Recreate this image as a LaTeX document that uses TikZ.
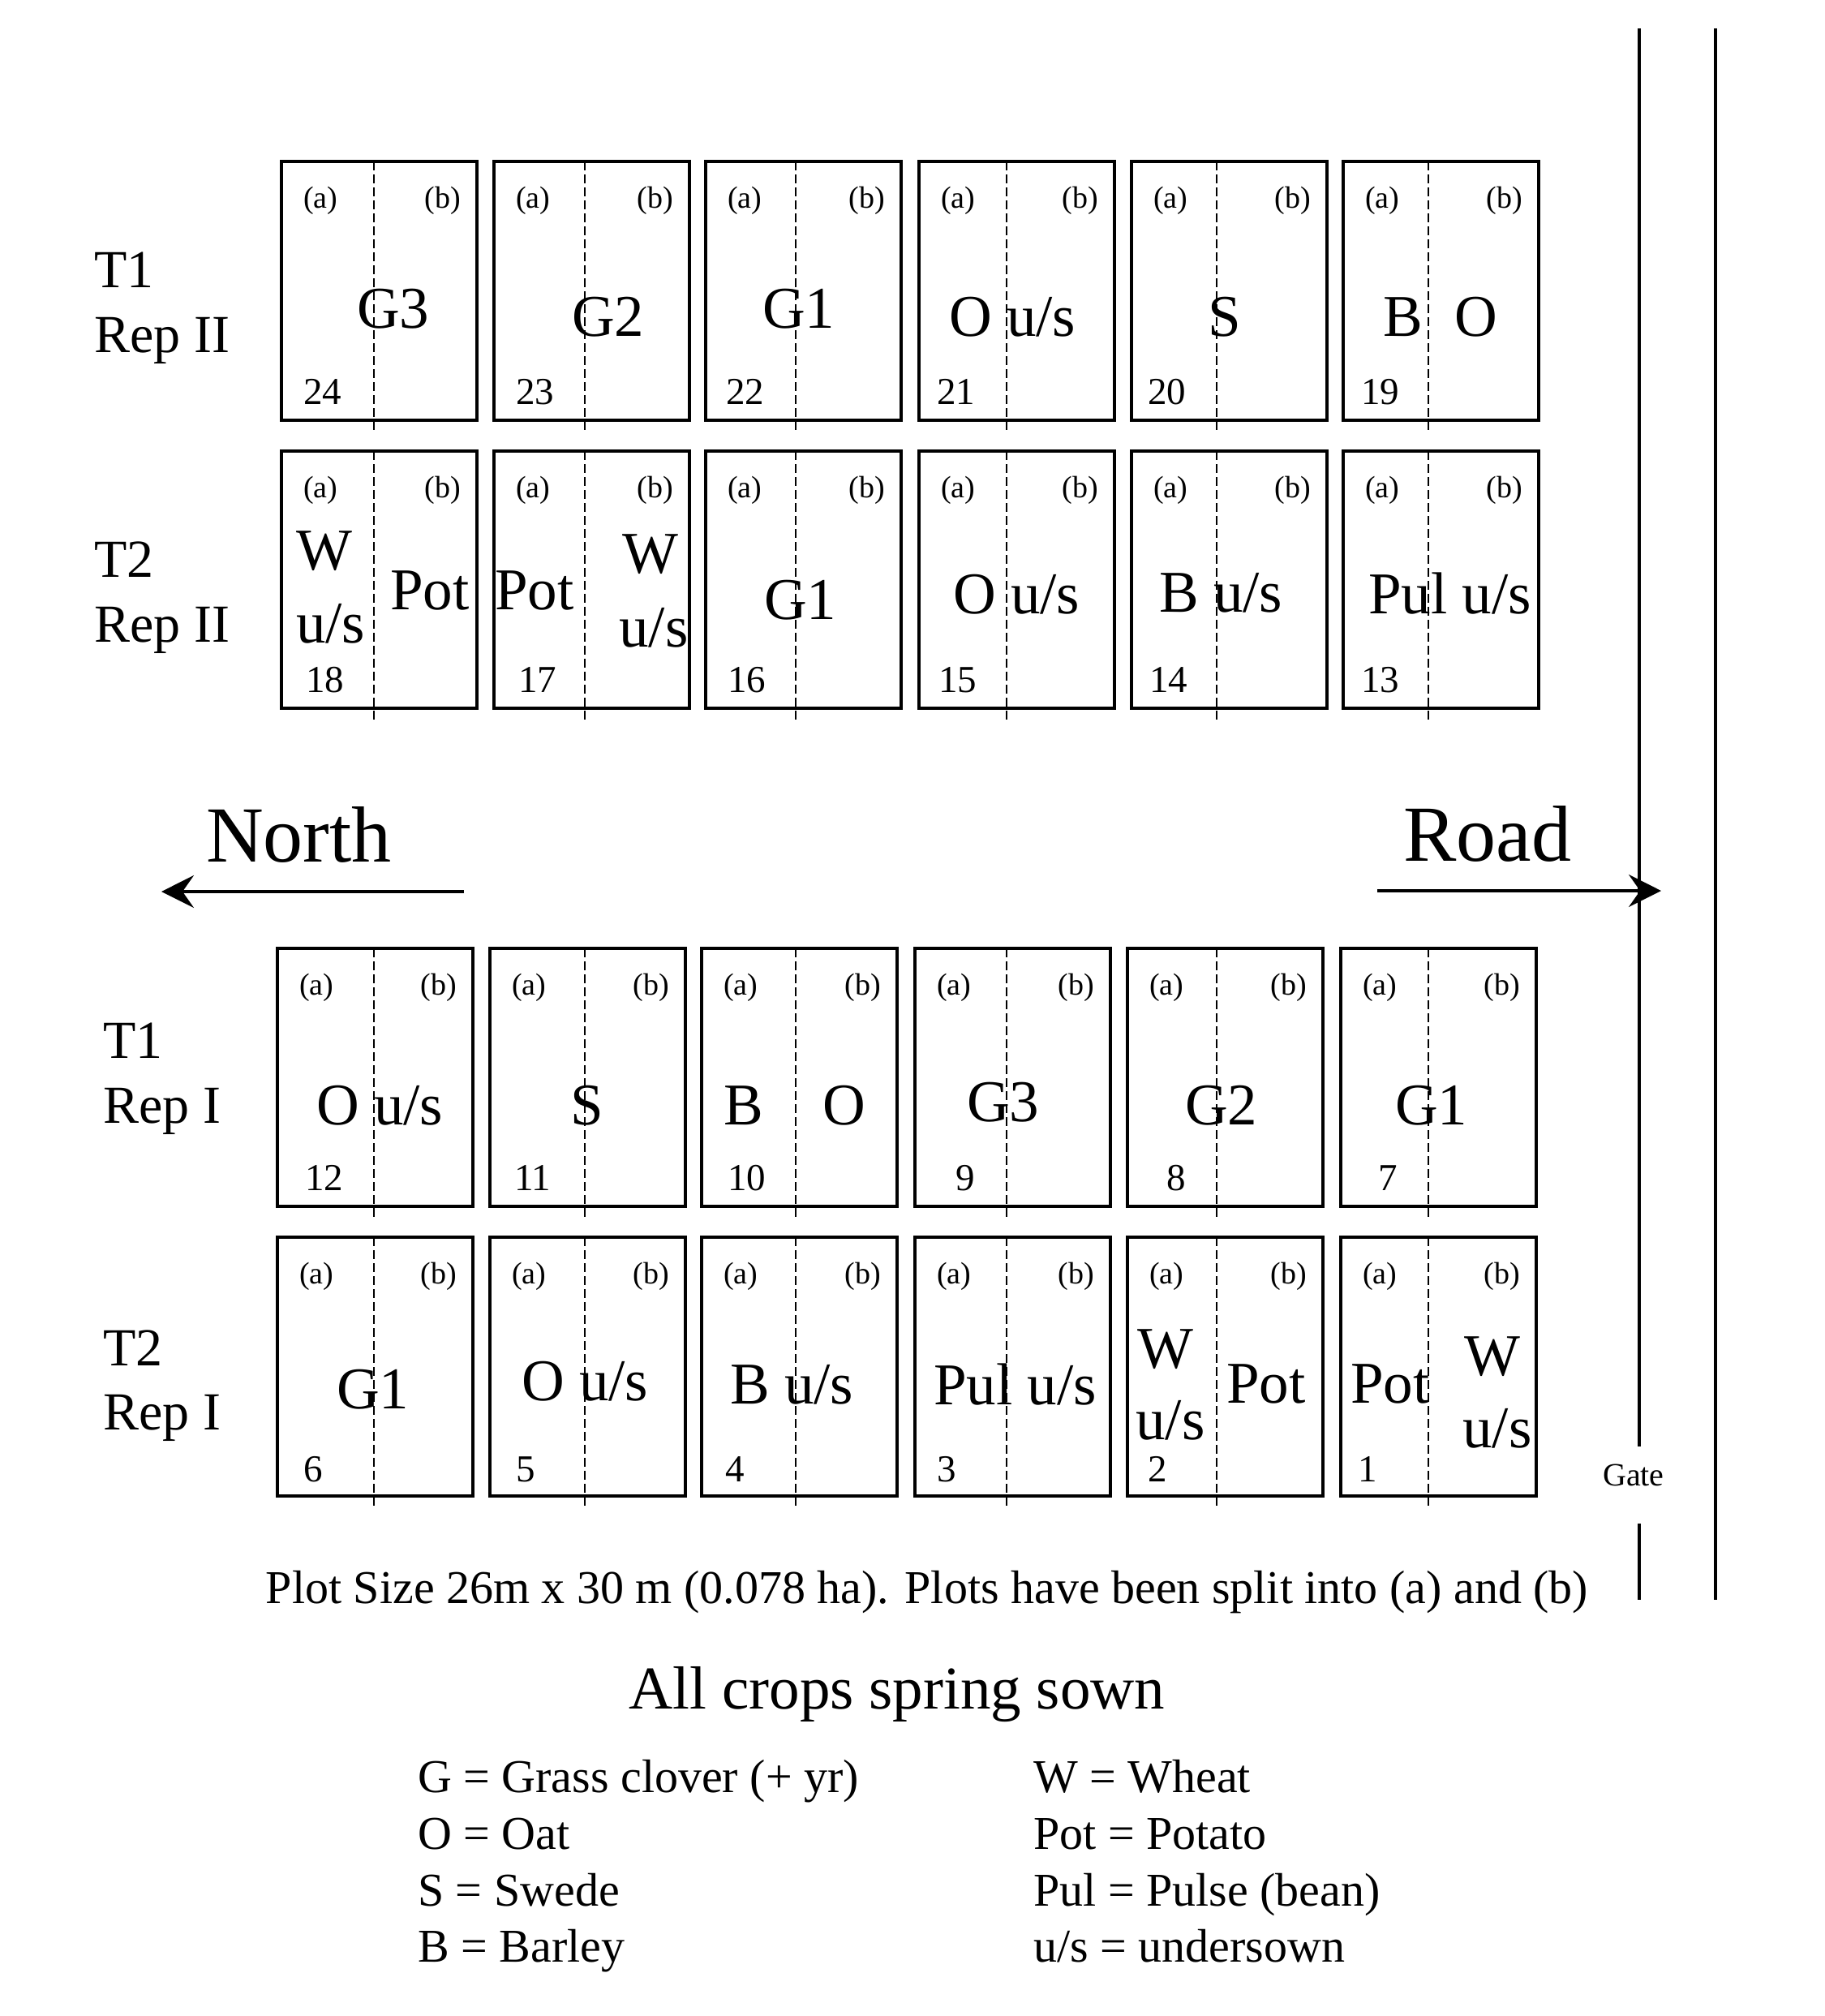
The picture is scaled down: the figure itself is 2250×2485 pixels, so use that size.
\documentclass[tikz,border=0pt]{standalone}
\usepackage{fontspec}
\setmainfont{Liberation Serif}
\usetikzlibrary{arrows.meta}

\begin{document}
\begin{tikzpicture}[x=1pt,y=1pt,yscale=-1,xscale=1,
  plot/.style={line width=3.2pt},
  half/.style={line width=2.8pt,dash pattern=on 11pt off 5pt},
  sub/.style={font=\fontsize{38}{40}\selectfont,inner sep=0pt},
  num/.style={font=\fontsize{47}{50}\selectfont,inner sep=0pt,anchor=base west},
  crop/.style={font=\fontsize{73}{76}\selectfont,inner sep=0pt,anchor=base west},
  lab/.style={font=\fontsize{66}{70}\selectfont,inner sep=0pt,anchor=base west},
  big/.style={font=\fontsize{98}{100}\selectfont,inner sep=0pt,anchor=base west},
  note/.style={font=\fontsize{58}{60}\selectfont,inner sep=0pt},
  arr/.style={line width=3.2pt,-{Stealth[length=40pt,width=40pt,inset=14pt]}},
  lane/.style={line width=3.2pt}]
%set diagram to the size of the page
\useasboundingbox (0,0) rectangle (2250,2485);

%Shape: Rectangle (T1 Rep II)
\draw [plot] (347,199) rectangle (588,518);
\draw [plot] (609,199) rectangle (850,518);
\draw [plot] (870,199) rectangle (1111,518);
\draw [plot] (1133,199) rectangle (1374,518);
\draw [plot] (1395,199) rectangle (1636,518);
\draw [plot] (1656,199) rectangle (1897,518);
%Shape: Rectangle (T2 Rep II)
\draw [plot] (347,556) rectangle (588,873);
\draw [plot] (609,556) rectangle (850,873);
\draw [plot] (870,556) rectangle (1111,873);
\draw [plot] (1133,556) rectangle (1374,873);
\draw [plot] (1395,556) rectangle (1636,873);
\draw [plot] (1656,556) rectangle (1897,873);
%Shape: Rectangle (T1 Rep I)
\draw [plot] (342,1169) rectangle (583,1487);
\draw [plot] (604,1169) rectangle (845,1487);
\draw [plot] (865,1169) rectangle (1106,1487);
\draw [plot] (1128,1169) rectangle (1369,1487);
\draw [plot] (1390,1169) rectangle (1631,1487);
\draw [plot] (1653,1169) rectangle (1894,1487);
%Shape: Rectangle (T2 Rep I)
\draw [plot] (342,1525) rectangle (583,1844);
\draw [plot] (604,1525) rectangle (845,1844);
\draw [plot] (865,1525) rectangle (1106,1844);
\draw [plot] (1128,1525) rectangle (1369,1844);
\draw [plot] (1390,1525) rectangle (1631,1844);
\draw [plot] (1653,1525) rectangle (1894,1844);

%Dashed Lines: split (a)/(b)
\draw [half] (461,199) -- (461,532);
\draw [half] (721,199) -- (721,532);
\draw [half] (981,199) -- (981,532);
\draw [half] (1241,199) -- (1241,532);
\draw [half] (1500,199) -- (1500,532);
\draw [half] (1761,199) -- (1761,532);
\draw [half] (461,556) -- (461,887);
\draw [half] (721,556) -- (721,887);
\draw [half] (981,556) -- (981,887);
\draw [half] (1241,556) -- (1241,887);
\draw [half] (1500,556) -- (1500,887);
\draw [half] (1761,556) -- (1761,887);
\draw [half] (461,1169) -- (461,1501);
\draw [half] (721,1169) -- (721,1501);
\draw [half] (981,1169) -- (981,1501);
\draw [half] (1241,1169) -- (1241,1501);
\draw [half] (1500,1169) -- (1500,1501);
\draw [half] (1761,1169) -- (1761,1501);
\draw [half] (461,1525) -- (461,1858);
\draw [half] (721,1525) -- (721,1858);
\draw [half] (981,1525) -- (981,1858);
\draw [half] (1241,1525) -- (1241,1858);
\draw [half] (1500,1525) -- (1500,1858);
\draw [half] (1761,1525) -- (1761,1858);

%Straight Lines: road and gate
\draw [lane] (2021,35) -- (2021,1783);
\draw [lane] (2021,1878) -- (2021,1972);
\draw [lane] (2115,35) -- (2115,1972);

%Arrows
\coordinate (northtail) at (572,1099);
\coordinate (northtip) at (199,1099);
\coordinate (roadtail) at (1698,1098);
\coordinate (roadtip) at (2048,1098);
\draw [arr] (northtail) -- (northtip);
\draw [arr] (roadtail) -- (roadtip);

% Text Node: row labels
\draw (116,354) node [lab] (t1up) {T1};
\draw (116,434) node [lab] (rep1up) {Rep II};
\draw (116,711) node [lab] (t2up) {T2};
\draw (116,791) node [lab] (rep2up) {Rep II};
\draw (127,1304) node [lab] (t1lo) {T1};
\draw (127,1384) node [lab] (rep1lo) {Rep I};
\draw (127,1683) node [lab] (t2lo) {T2};
\draw (127,1762) node [lab] (rep2lo) {Rep I};

% Text Node: (a) (b)
\draw (374,256) node [sub,anchor=base west] (a24) {(a)};
\draw (568,256) node [sub,anchor=base east] (b24) {(b)};
\draw (636,256) node [sub,anchor=base west] (a23) {(a)};
\draw (830,256) node [sub,anchor=base east] (b23) {(b)};
\draw (897,256) node [sub,anchor=base west] (a22) {(a)};
\draw (1091,256) node [sub,anchor=base east] (b22) {(b)};
\draw (1160,256) node [sub,anchor=base west] (a21) {(a)};
\draw (1354,256) node [sub,anchor=base east] (b21) {(b)};
\draw (1422,256) node [sub,anchor=base west] (a20) {(a)};
\draw (1616,256) node [sub,anchor=base east] (b20) {(b)};
\draw (1683,256) node [sub,anchor=base west] (a19) {(a)};
\draw (1877,256) node [sub,anchor=base east] (b19) {(b)};
\draw (374,613) node [sub,anchor=base west] (a18) {(a)};
\draw (568,613) node [sub,anchor=base east] (b18) {(b)};
\draw (636,613) node [sub,anchor=base west] (a17) {(a)};
\draw (830,613) node [sub,anchor=base east] (b17) {(b)};
\draw (897,613) node [sub,anchor=base west] (a16) {(a)};
\draw (1091,613) node [sub,anchor=base east] (b16) {(b)};
\draw (1160,613) node [sub,anchor=base west] (a15) {(a)};
\draw (1354,613) node [sub,anchor=base east] (b15) {(b)};
\draw (1422,613) node [sub,anchor=base west] (a14) {(a)};
\draw (1616,613) node [sub,anchor=base east] (b14) {(b)};
\draw (1683,613) node [sub,anchor=base west] (a13) {(a)};
\draw (1877,613) node [sub,anchor=base east] (b13) {(b)};
\draw (369,1226) node [sub,anchor=base west] (a12) {(a)};
\draw (563,1226) node [sub,anchor=base east] (b12) {(b)};
\draw (631,1226) node [sub,anchor=base west] (a11) {(a)};
\draw (825,1226) node [sub,anchor=base east] (b11) {(b)};
\draw (892,1226) node [sub,anchor=base west] (a10) {(a)};
\draw (1086,1226) node [sub,anchor=base east] (b10) {(b)};
\draw (1155,1226) node [sub,anchor=base west] (a9) {(a)};
\draw (1349,1226) node [sub,anchor=base east] (b9) {(b)};
\draw (1417,1226) node [sub,anchor=base west] (a8) {(a)};
\draw (1611,1226) node [sub,anchor=base east] (b8) {(b)};
\draw (1680,1226) node [sub,anchor=base west] (a7) {(a)};
\draw (1874,1226) node [sub,anchor=base east] (b7) {(b)};
\draw (369,1582) node [sub,anchor=base west] (a6) {(a)};
\draw (563,1582) node [sub,anchor=base east] (b6) {(b)};
\draw (631,1582) node [sub,anchor=base west] (a5) {(a)};
\draw (825,1582) node [sub,anchor=base east] (b5) {(b)};
\draw (892,1582) node [sub,anchor=base west] (a4) {(a)};
\draw (1086,1582) node [sub,anchor=base east] (b4) {(b)};
\draw (1155,1582) node [sub,anchor=base west] (a3) {(a)};
\draw (1349,1582) node [sub,anchor=base east] (b3) {(b)};
\draw (1417,1582) node [sub,anchor=base west] (a2) {(a)};
\draw (1611,1582) node [sub,anchor=base east] (b2) {(b)};
\draw (1680,1582) node [sub,anchor=base west] (a1) {(a)};
\draw (1874,1582) node [sub,anchor=base east] (b1) {(b)};

% Text Node: plot numbers
\draw (374,498) node [num] (n24) {24};
\draw (636,498) node [num] (n23) {23};
\draw (895,498) node [num] (n22) {22};
\draw (1155,498) node [num] (n21) {21};
\draw (1415,498) node [num] (n20) {20};
\draw (1678,498) node [num] (n19) {19};
\draw (377,853) node [num] (n18) {18};
\draw (639,853) node [num] (n17) {17};
\draw (897,853) node [num] (n16) {16};
\draw (1157,853) node [num] (n15) {15};
\draw (1417,853) node [num] (n14) {14};
\draw (1678,853) node [num] (n13) {13};
\draw (376,1467) node [num] (n12) {12};
\draw (634,1467) node [num] (n11) {11};
\draw (897,1467) node [num] (n10) {10};
\draw (1178,1467) node [num] (n9) {9};
\draw (1438,1467) node [num] (n8) {8};
\draw (1699,1467) node [num] (n7) {7};
\draw (374,1826) node [num] (n6) {6};
\draw (636,1826) node [num] (n5) {5};
\draw (894,1826) node [num] (n4) {4};
\draw (1155,1826) node [num] (n3) {3};
\draw (1415,1826) node [num] (n2) {2};
\draw (1674,1826) node [num] (n1) {1};

% Text Node: crops
\draw (440,404) node [crop] (c24) {G3};
\draw (705,414) node [crop] (c23) {G2};
\draw (940,404) node [crop] (c22) {G1};
\draw (1170,414) node [crop] (c21) {O u/s};
\draw (1489,414) node [crop] (c20) {S};
\draw (1705,414) node [crop] (c19a) {B};
\draw (1793,414) node [crop] (c19b) {O};
\draw (365,702) node [crop] (c18w) {W};
\draw (365,792) node [crop] (c18us) {u/s};
\draw (481,751) node [crop] (c18pot) {Pot};
\draw (610,751) node [crop] (c17pot) {Pot};
\draw (767,706) node [crop] (c17w) {W};
\draw (763,797) node [crop] (c17us) {u/s};
\draw (942,763) node [crop] (c16) {G1};
\draw (1175,756) node [crop] (c15) {O u/s};
\draw (1429,754) node [crop] (c14) {B u/s};
\draw (1687,756) node [crop] (c13) {Pul u/s};
\draw (390,1386) node [crop] (c12) {O u/s};
\draw (703,1386) node [crop] (c11) {S};
\draw (892,1386) node [crop] (c10a) {B};
\draw (1014,1386) node [crop] (c10b) {O};
\draw (1192,1382) node [crop] (c9) {G3};
\draw (1461,1386) node [crop] (c8) {G2};
\draw (1720,1386) node [crop] (c7) {G1};
\draw (415,1736) node [crop] (c6) {G1};
\draw (643,1726) node [crop] (c5) {O u/s};
\draw (900,1730) node [crop] (c4) {B u/s};
\draw (1151,1731) node [crop] (c3) {Pul u/s};
\draw (1402,1686) node [crop] (c2w) {W};
\draw (1400,1774) node [crop] (c2us) {u/s};
\draw (1512,1729) node [crop] (c2pot) {Pot};
\draw (1665,1729) node [crop] (c1pot) {Pot};
\draw (1805,1695) node [crop] (c1w) {W};
\draw (1803,1784) node [crop] (c1us) {u/s};

% Text Node: directions
\draw (254,1062) node [big] (north) {North};
\draw (1730,1061) node [big] (road) {Road};
\draw (1976,1831) node [font=\fontsize{40}{42}\selectfont,inner sep=0pt,anchor=base west] (gate) {Gate};

% Text Node: notes
\draw (1143,1976) node [note,anchor=base] (size) {Plot Size 26m x 30 m (0.078 ha). Plots have been split into (a) and (b)};
\draw (1106,2106) node [font=\fontsize{75}{78}\selectfont,inner sep=0pt,anchor=base] (sown) {All crops spring sown};
\draw (515,2209) node [note,anchor=base west] (keyg) {G = Grass clover (+ yr)};
\draw (515,2279) node [note,anchor=base west] (keyo) {O = Oat};
\draw (515,2349) node [note,anchor=base west] (keys) {S = Swede};
\draw (515,2418) node [note,anchor=base west] (keyb) {B = Barley};
\draw (1274,2209) node [note,anchor=base west] (keyw) {W = Wheat};
\draw (1274,2279) node [note,anchor=base west] (keypot) {Pot = Potato};
\draw (1274,2349) node [note,anchor=base west] (keypul) {Pul = Pulse (bean)};
\draw (1274,2418) node [note,anchor=base west] (keyus) {u/s = undersown};

\end{tikzpicture}
\end{document}
